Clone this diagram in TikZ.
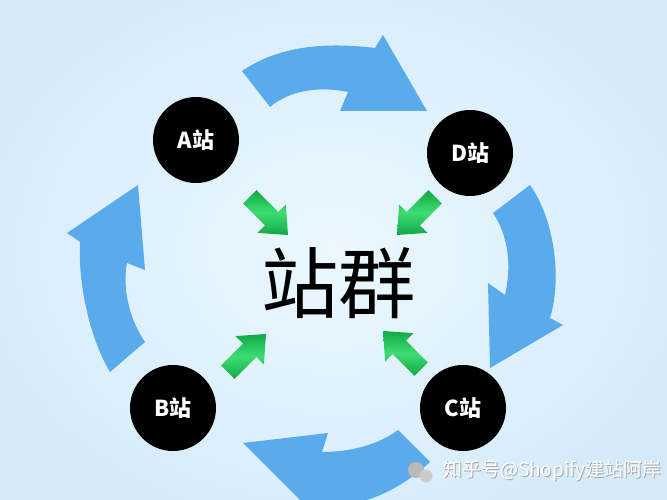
\documentclass[tikz,border=0pt]{standalone}
\usepackage{fontspec}
\usepackage{tikz}
\usepackage{xcolor}
\newfontfamily\cjk{Noto Sans CJK SC}

\definecolor{skyedge}{HTML}{D4EAFA}
\definecolor{skymid}{HTML}{EBF8FE}
\definecolor{loopblue}{HTML}{5AABEC}
\definecolor{pushlight}{HTML}{3EDC72}
\definecolor{pushdark}{HTML}{12A845}

\begin{document}
\begin{tikzpicture}[
    x=0.02cm, y=-0.02cm,
    station/.style={
        circle,
        fill=black,
        minimum size=1.72cm,
        inner sep=0pt,
        text=white,
        font=\cjk\bfseries\fontsize{12.5}{14}\selectfont
    },
    loop/.style={fill=loopblue},
    pics/pusher/.style={code={
        \shade[top color=pushdark, bottom color=pushdark, middle color=pushlight]
            (0,0) -- (-23,-20) -- (-23,-9.5) -- (-54,-9.5)
            -- (-54,9.5) -- (-23,9.5) -- (-23,20) -- cycle;
    }}
]

\useasboundingbox (0,0) rectangle (667,500);
\clip (0,0) rectangle (667,500);
\shade[inner color=skymid, outer color=skyedge] (-60,-60) rectangle (727,560);

% blue loop, clockwise
\fill[loop] (242,71) .. controls (270,52) and (310,40) .. (375,48)
    -- (383,35) -- (427,111) -- (340,111) -- (348,92)
    .. controls (320,86) and (290,90) .. (270,107) -- cycle;
\fill[loop] (530,185) .. controls (555,220) and (562,280) .. (550,318)
    -- (563,325) -- (490,368) -- (488,283) -- (505,295)
    .. controls (512,265) and (508,235) .. (493,213) -- cycle;
\fill[loop] (430,462) .. controls (400,490) and (365,505) .. (335,505)
    -- (318,518) -- (243,443) -- (328,433) -- (322,452)
    .. controls (350,452) and (378,445) .. (398,430) -- cycle;
\fill[loop] (110,372) .. controls (88,335) and (78,280) .. (80,242)
    -- (67,233) -- (138,185) -- (145,270) -- (127,263)
    .. controls (122,290) and (130,320) .. (145,342) -- cycle;

\node[station] (A) at (196,140) {A站};
\node[station] (D) at (470,153) {D站};
\node[station] (B) at (173,408) {B站};
\node[station] (C) at (463,408) {C站};

\node[font=\cjk\fontsize{44}{50}\selectfont] (hub) at (339,283) {站群};

% green pointers into the hub
\pic[rotate=-45] at (288,235) {pusher};
\pic[rotate=-135] at (397,235) {pusher};
\pic[rotate=45] at (266,334) {pusher};
\pic[rotate=135] at (383,331) {pusher};

% watermark
\fill[gray!55] (416,470) circle (8);
\fill[gray!40] (426,476) circle (6.5);
\node[
    anchor=west,
    text=white,
    font=\cjk\fontsize{10.8}{12}\selectfont
] (mark) at (437,471)
{\textcolor{gray!70}{\rlap{\kern0.6pt\raisebox{-0.6pt}{知乎号@Shopify建站阿岸}}}知乎号@Shopify建站阿岸};

\end{tikzpicture}
\end{document}
